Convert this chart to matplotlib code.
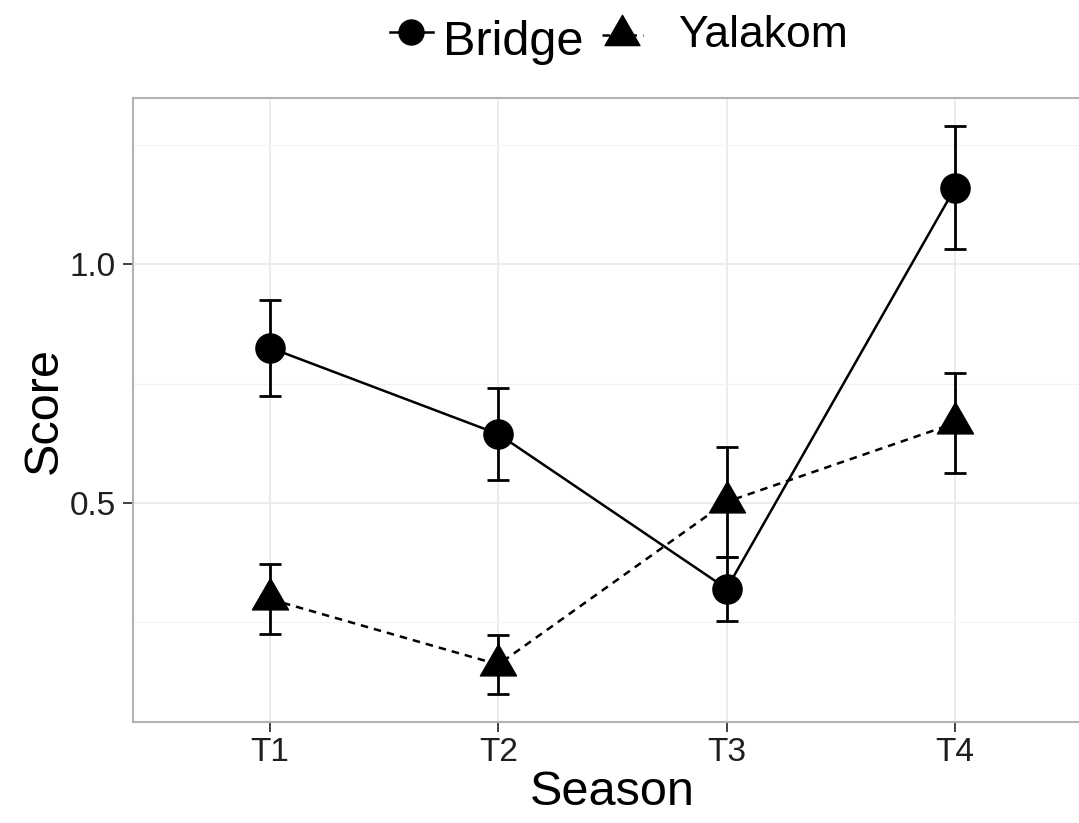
import numpy as np
import matplotlib.pyplot as plt
from matplotlib.path import Path
from matplotlib.lines import Line2D
from matplotlib.ticker import FixedLocator

plt.rcParams['font.family'] = ['Liberation Sans', 'DejaVu Sans']

seasons = ['T1', 'T2', 'T3', 'T4']
bridge_mean = [0.825, 0.644, 0.320, 1.160]
bridge_se = [0.101, 0.096, 0.067, 0.129]
yalakom_mean = [0.298, 0.161, 0.502, 0.667]
yalakom_se = [0.074, 0.061, 0.115, 0.105]

# filled equilateral triangle centred on its centroid
tri = Path([(0, 1), (-0.866, -0.5), (0.866, -0.5), (0, 1)],
           [Path.MOVETO, Path.LINETO, Path.LINETO, Path.CLOSEPOLY])

fig = plt.figure(figsize=(10.79, 8.23), dpi=100)
ax = fig.add_axes([133 / 1079, 101 / 823, (1092 - 133) / 1079, 624 / 823])

x = np.arange(len(seasons)) + 1

styles = [
    (bridge_mean, bridge_se, '-', 'o', 21),
    (yalakom_mean, yalakom_se, '--', tri, 30),
]
for mean, se, ls, mk, ms in styles:
    ax.errorbar(x, mean, yerr=se, fmt='none', ecolor='black',
                elinewidth=2.0, capsize=8, capthick=2.0, zorder=3)
    line, = ax.plot(x, mean, color='black', lw=1.8, ls=ls,
                    marker=mk, ms=ms, zorder=4)
    if ls == '--':
        line.set_dashes((3.0, 2.4))

lo = min(np.subtract(bridge_mean, bridge_se).min(), np.subtract(yalakom_mean, yalakom_se).min())
hi = max(np.add(bridge_mean, bridge_se).max(), np.add(yalakom_mean, yalakom_se).max())
pad = (hi - lo) * 0.05
ax.set_ylim(lo - pad, hi + pad)
ax.set_xlim(0.4, 4.6)

ax.set_xticks(x)
ax.set_xticklabels(seasons)
ax.set_yticks([0.5, 1.0])
ax.set_yticklabels(['0.5', '1.0'])
ax.yaxis.set_minor_locator(FixedLocator([0.25, 0.75, 1.25]))

ax.set_axisbelow(True)
ax.grid(which='major', color='#ebebeb', lw=1.3)
ax.grid(which='minor', axis='y', color='#f2f2f2', lw=0.8)
ax.tick_params(which='minor', length=0)
ax.tick_params(which='major', length=7, width=1.3, color='#333333',
               labelsize=24, labelcolor='#1f1f1f')
ax.tick_params(axis='x', pad=4)
ax.tick_params(axis='y', pad=5.5)

for sp in ax.spines.values():
    sp.set_color('#b3b3b3')
    sp.set_linewidth(1.5)

ax.set_xlabel('Season', fontsize=35, labelpad=1)
ax.set_ylabel('Score', fontsize=35, labelpad=2)

# legend keys (handles only), labels placed as separate texts
h_bridge = Line2D([], [], color='black', lw=1.8, marker='o', ms=18)
h_yal = Line2D([], [], color='black', lw=1.8, ls='--', dashes=(3.0, 2.4),
               marker=tri, ms=29)
fig.legend(handles=[h_bridge], labels=[''], loc='center left',
           bbox_to_anchor=(390 / 1079, 1 - 37 / 823), frameon=False,
           fontsize=35, handlelength=0.88, handletextpad=0,
           borderpad=0, borderaxespad=0)
fig.legend(handles=[h_yal], labels=[''], loc='center left',
           bbox_to_anchor=(602 / 1079, 1 - 40 / 823), frameon=False,
           fontsize=35, handlelength=0.84, handletextpad=0,
           borderpad=0, borderaxespad=0)
fig.text(443 / 1079, 1 - 55 / 823, 'Bridge', fontsize=35, va='baseline')
fig.text(678 / 1079, 1 - 47 / 823, 'Yalakom', fontsize=32, va='baseline')

fig.savefig('out.png', dpi=100)
